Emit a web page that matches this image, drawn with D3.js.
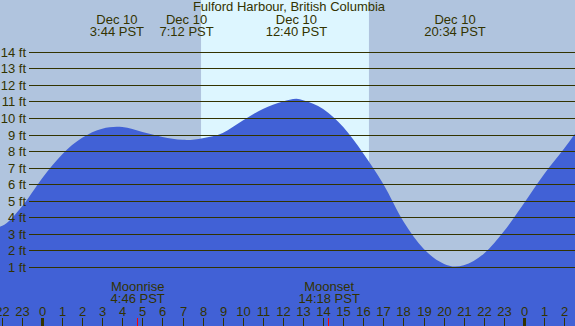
<!DOCTYPE html>
<html>
<head>
<meta charset="utf-8">
<title>Fulford Harbour tide</title>
<script src="https://d3js.org/d3.v7.min.js"></script>
<style>
  body { margin: 0; background: #fff; }
  svg text { font-family: "Liberation Sans", Arial, sans-serif; font-size: 13px; fill: #333300; }
</style>
</head>
<body>
<svg id="chart"></svg>
<script>
var W = 575, H = 326

// tide heights (ft), hours relative to midnight Dec 10
var hours   = [-2.09, -2, -1, 0, 1, 2, 3, 3.73, 4, 5, 6, 7, 7.2, 8, 9, 10, 11, 12, 12.67, 13, 14, 15, 16, 17, 18, 19, 20, 20.57, 21, 22, 23, 24, 25, 26, 26.54]
var heights = [3.43, 3.47, 4.65, 6.35, 7.8, 8.8, 9.35, 9.47, 9.45, 9.15, 8.85, 8.68, 8.67, 8.78, 9.1, 9.85, 10.55, 11.0, 11.17, 11.08, 10.55, 9.45, 7.85, 6.0, 3.75, 2.1, 1.2, 1.02, 1.1, 1.8, 3.15, 4.85, 6.6, 8.15, 9.05]

// high / low events
var eventHours  = [3.733, 7.2, 12.667, 20.567]
var eventLabels = ['3:44 PST', '7:12 PST', '12:40 PST', '20:34 PST']

// moon events
var moonHours  = [4.767, 14.3]
var moonNames  = ['Moonrise', 'Moonset']
var moonLabels = ['4:46 PST', '14:18 PST']

// daylight
var sunrise = 7.92, sunset = 16.28

var feet = d3.range(1, 15)
var tickHours = d3.range(-2, 27)

var x = d3.scaleLinear().domain([-2.09, 26.54]).range([0, W])
var y = d3.scaleLinear().domain([0, 14]).range([283.5, 51.8])

var svg = d3.select('#chart').attr('width', W).attr('height', H)

svg.append('rect').attr('width', W).attr('height', H).attr('fill', '#b0c4de')
svg.append('rect')
    .attr('x', x(sunrise)).attr('width', x(sunset) - x(sunrise))
    .attr('y', 0).attr('height', H)
    .attr('fill', '#ddf6ff')

var pts = hours.map(function (h, i) { return [h, heights[i]] })
var area = d3.area()
    .x(function (d) { return x(d[0]) })
    .y0(H)
    .y1(function (d) { return y(d[1]) })
    .curve(d3.curveMonotoneX)

svg.append('path').datum(pts).attr('d', area).attr('fill', '#4161d6')

// grid lines + labels
feet.forEach(function (f) {
    var yy = Math.round(y(f)) + 0.5
    svg.append('line')
        .attr('x1', 29).attr('x2', W)
        .attr('y1', yy).attr('y2', yy)
        .attr('stroke', '#333300').attr('stroke-width', 1)
    svg.append('text')
        .attr('x', 26).attr('y', yy + 4.5)
        .attr('text-anchor', 'end')
        .text(f + ' ft')
})

svg.append('text').attr('x', 289).attr('y', 11).attr('text-anchor', 'middle')
    .text('Fulford Harbour, British Columbia')

eventHours.forEach(function (h, i) {
    svg.append('text').attr('x', x(h)).attr('y', 24).attr('text-anchor', 'middle').text('Dec 10')
    svg.append('text').attr('x', x(h)).attr('y', 36).attr('text-anchor', 'middle').text(eventLabels[i])
})

moonHours.forEach(function (h, i) {
    svg.append('text').attr('x', x(h)).attr('y', 291).attr('text-anchor', 'middle').text(moonNames[i])
    svg.append('text').attr('x', x(h)).attr('y', 303).attr('text-anchor', 'middle').text(moonLabels[i])
    svg.append('rect')
        .attr('x', Math.round(x(h)) - 1).attr('y', 318)
        .attr('width', 1).attr('height', 8)
        .attr('fill', '#ff0000')
})

// hour ticks
tickHours.forEach(function (h) {
    var xx = Math.round(x(h))
    var mid = ((h % 24) + 24) % 24 == 0
    svg.append('rect')
        .attr('x', mid ? xx - 1 : xx).attr('y', 318)
        .attr('width', mid ? 3 : 1).attr('height', 8)
        .attr('fill', '#333300')
    svg.append('text')
        .attr('x', xx + 0.5).attr('y', 316)
        .attr('text-anchor', 'middle')
        .text(((h % 24) + 24) % 24)
})
</script>
</body>
</html>
